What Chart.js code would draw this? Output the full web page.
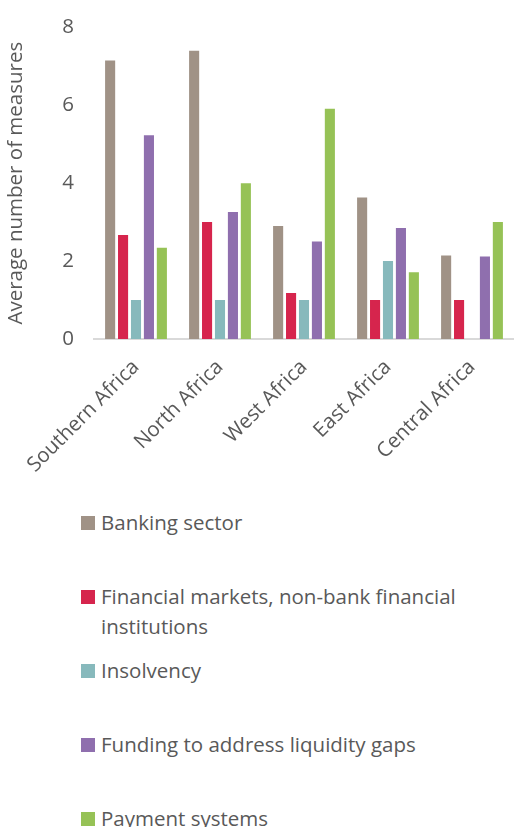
<!DOCTYPE html>
<html>
<head>
<meta charset="utf-8">
<script src="https://cdn.jsdelivr.net/npm/chart.js@4/dist/chart.umd.min.js"></script>
<style>
  html, body { margin: 0; padding: 0; background: #fff; }
  #wrap { position: relative; width: 514px; height: 827px; overflow: hidden; }
  #chartBox { position: absolute; left: 0; top: -5px; width: 514px; height: 500px; }
  #legend { position: absolute; left: 81px; top: 507px; width: 425px;
            font-family: "Open Sans", sans-serif; font-size: 20.5px; color: #595959; }
  .item { position: relative; height: 74px; padding-left: 20px; line-height: 30px; }
  .item .box { position: absolute; left: 0; top: 9px; width: 14px; height: 14px; }
</style>
</head>
<body>
<div id="wrap">
  <div id="chartBox"><canvas id="chart"></canvas></div>
  <div id="legend"></div>
</div>
<script>
// Regions on the x axis
const regions = ['Southern Africa', 'North Africa', 'West Africa', 'East Africa', 'Central Africa'];

// Average number of measures per region
const banking = [7.15, 7.40, 2.90, 3.63, 2.14];
const financialMarkets = [2.67, 3.00, 1.18, 1.00, 1.00];
const insolvency = [1.00, 1.00, 1.00, 2.00, 0];
const liquidityFunding = [5.23, 3.26, 2.50, 2.85, 2.12];
const paymentSystems = [2.34, 4.00, 5.91, 1.71, 3.00];

const seriesNames = [
  'Banking sector',
  'Financial markets, non-bank financial institutions',
  'Insolvency',
  'Funding to address liquidity gaps',
  'Payment systems'
];
const seriesColors = ['#A09286', '#D6254D', '#87B9BC', '#8F6FAE', '#96C256'];
const seriesData = [banking, financialMarkets, insolvency, liquidityFunding, paymentSystems];

const textColor = '#595959';
const fontFamily = '"Open Sans", sans-serif';

const canvas = document.getElementById('chart');
const chart = new Chart(canvas, {
  type: 'bar',
  data: {
    labels: regions,
    datasets: seriesData.map((data, i) => ({
      label: seriesNames[i],
      data: data,
      backgroundColor: seriesColors[i],
      borderWidth: 0,
      barPercentage: 0.78,
      categoryPercentage: 0.77,
    }))
  },
  options: {
    responsive: true,
    maintainAspectRatio: false,
    animation: false,
    layout: { padding: { top: 20, right: 0, left: 0, bottom: 0 } },
    plugins: {
      legend: { display: false },
      tooltip: { enabled: false }
    },
    scales: {
      x: {
        grid: { display: false, drawTicks: false },
        border: { display: true, color: '#D9D9D9', width: 2 },
        ticks: {
          color: textColor,
          minRotation: 45,
          maxRotation: 45,
          padding: 16,
          font: { family: fontFamily, size: 20.5 }
        },
        afterFit: function(scale) {
          scale.height = 156;
        }
      },
      y: {
        min: 0,
        max: 8,
        grid: { display: false, drawTicks: false },
        border: { display: false },
        ticks: {
          stepSize: 2,
          color: textColor,
          padding: 20,
          font: { family: fontFamily, size: 20.5 }
        },
        title: {
          display: true,
          text: 'Average number of measures',
          color: textColor,
          padding: { top: 4, bottom: 0 },
          font: { family: fontFamily, size: 20.5 }
        },
        afterFit: function(scale) {
          scale.width = 94;
        }
      }
    }
  }
});

// HTML legend, one entry per row
const legendDiv = document.getElementById('legend');
chart.data.datasets.forEach(ds => {
  const item = document.createElement('div');
  item.className = 'item';
  const box = document.createElement('span');
  box.className = 'box';
  box.style.background = ds.backgroundColor;
  item.appendChild(box);
  item.appendChild(document.createTextNode(ds.label));
  legendDiv.appendChild(item);
});
</script>
</body>
</html>
